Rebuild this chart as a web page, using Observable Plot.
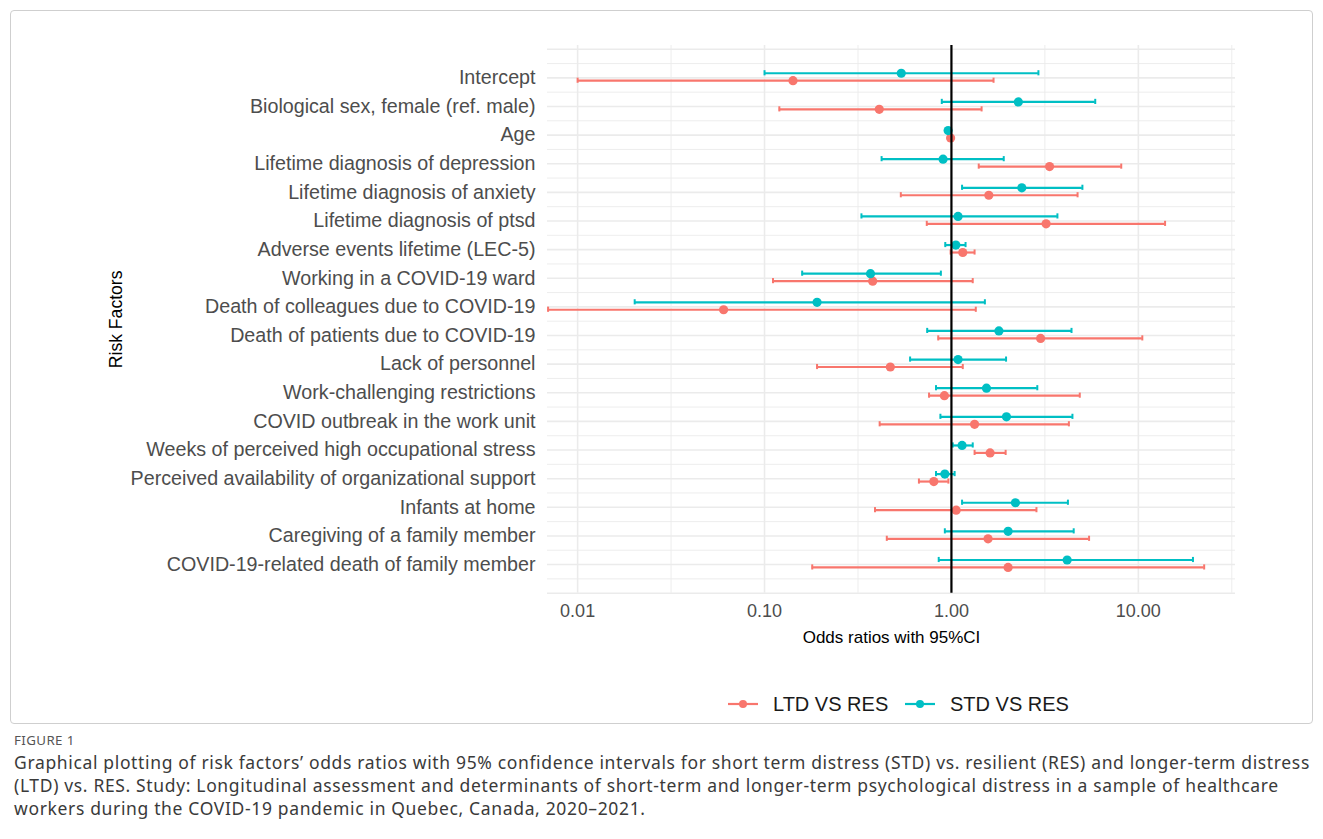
<!DOCTYPE html>
<html><head><meta charset="utf-8">
<script src="https://cdn.jsdelivr.net/npm/d3@7"></script>
<script src="https://cdn.jsdelivr.net/npm/@observablehq/plot@0.6"></script>
<style>
body{margin:0;background:#fff;font-family:"Liberation Sans",Arial,sans-serif;}
#wrap{position:relative;width:1323px;height:839px;overflow:hidden;}
#frame{position:absolute;left:10px;top:10px;width:1303px;height:714px;border:1px solid #cfcfcf;border-radius:4px;box-sizing:border-box;}
#chart{position:absolute;left:0;top:0;}
.lg{position:absolute;top:692px;height:24px;}
.lgtext{position:absolute;top:692px;font-size:20px;line-height:24px;color:#1a1a1a;font-family:"Liberation Sans",Arial,sans-serif;}
.caption-head{position:absolute;left:14px;top:732px;font-family:"Noto Sans";font-size:13.3px;line-height:16px;color:#555;letter-spacing:0.4px;}
.capline{position:absolute;left:14px;font-family:"Noto Sans";font-size:17.5px;line-height:22px;height:22px;color:#3a3a3a;white-space:nowrap;}
</style></head>
<body>
<div id="wrap">
  <div id="frame"></div>
  <div id="chart"></div>
  <svg class="lg" style="left:726px" width="34" height="24"><line x1="2" x2="32" y1="12" y2="12" stroke="#F8766D" stroke-width="2.2"/><circle cx="17" cy="12" r="4" fill="#F8766D"/></svg>
  <div class="lgtext" style="left:773px">LTD VS RES</div>
  <svg class="lg" style="left:903px" width="34" height="24"><line x1="2" x2="32" y1="12" y2="12" stroke="#00BFC4" stroke-width="2.2"/><circle cx="17" cy="12" r="4" fill="#00BFC4"/></svg>
  <div class="lgtext" style="left:950px">STD VS RES</div>
  <div class="caption-head">FIGURE 1</div>
  <div class="capline" style="top:751px"><span id="cap1">Graphical plotting of risk factors’ odds ratios with 95% confidence intervals for short term distress (STD) vs. resilient (RES) and longer-term distress</span></div>
  <div class="capline" style="top:774px">(LTD) vs. RES. Study: Longitudinal assessment and determinants of short-term and longer-term psychological distress in a sample of healthcare</div>
  <div class="capline" style="top:797px">workers during the COVID-19 pandemic in Quebec, Canada, 2020–2021.</div>
</div>
<script>
const labels = [
  "Intercept",
  "Biological sex, female (ref. male)",
  "Age",
  "Lifetime diagnosis of depression",
  "Lifetime diagnosis of anxiety",
  "Lifetime diagnosis of ptsd",
  "Adverse events lifetime (LEC-5)",
  "Working in a COVID-19 ward",
  "Death of colleagues due to COVID-19",
  "Death of patients due to COVID-19",
  "Lack of personnel",
  "Work-challenging restrictions",
  "COVID outbreak in the work unit",
  "Weeks of perceived high occupational stress",
  "Perceived availability of organizational support",
  "Infants at home",
  "Caregiving of a family member",
  "COVID-19-related death of family member"
];
const groups = ["LTD VS RES", "STD VS RES"];
// STD vs RES (teal)
const stdOR = [0.539, 2.28, 0.96, 0.902, 2.38, 1.085, 1.056, 0.369, 0.191, 1.795, 1.085, 1.54, 1.97, 1.14, 0.922, 2.20, 2.01, 4.16];
const stdLo = [0.100, 0.888, 0.95, 0.423, 1.14, 0.330, 0.927, 0.159, 0.0202, 0.742, 0.601, 0.827, 0.873, 1.016, 0.827, 1.14, 0.922, 0.855];
const stdHi = [2.92, 5.88, 0.98, 1.905, 5.02, 3.69, 1.19, 0.878, 1.51, 4.39, 1.96, 2.88, 4.44, 1.30, 1.04, 4.20, 4.51, 19.6];
// LTD vs RES (red)
const ltdOR = [0.142, 0.411, 0.99, 3.35, 1.585, 3.21, 1.15, 0.379, 0.0604, 3.00, 0.471, 0.917, 1.33, 1.61, 0.805, 1.06, 1.57, 2.01];
const ltdLo = [0.010, 0.120, 0.98, 1.40, 0.536, 0.738, 0.99, 0.111, 0.00695, 0.850, 0.191, 0.759, 0.413, 1.33, 0.670, 0.390, 0.451, 0.180];
const ltdHi = [1.68, 1.45, 1.00, 8.10, 4.73, 13.9, 1.33, 1.30, 1.35, 10.5, 1.15, 4.86, 4.25, 1.95, 0.963, 2.85, 5.45, 22.5];
const xTicks = [0.01, 0.1, 1, 10];
const xMinor = [Math.pow(10,-1.5), Math.pow(10,-0.5), Math.pow(10,0.5), Math.pow(10,1.5)];

const data = [];
labels.forEach((l, i) => {
  data.push({grp: groups[0], y: i + 0.10, or: ltdOR[i], lo: ltdLo[i], hi: ltdHi[i]});
  data.push({grp: groups[1], y: i - 0.16, or: stdOR[i], lo: stdLo[i], hi: stdHi[i]});
});
const majorY = d3.range(-1, 19, 1);
const minorY = d3.range(-0.5, 18, 1);
const cap = 0.09;

const chart = Plot.plot({
  width: 1323, height: 680,
  marginLeft: 547, marginRight: 88, marginTop: 45, marginBottom: 87.3,
  x: {type: "log", domain: [0.0069, 33.1], axis: null},
  y: {domain: [-1.13, 18.0], reverse: true, axis: null},
  color: {domain: groups, range: ["#F8766D", "#00BFC4"]},
  style: {fontFamily: "Liberation Sans, Arial, sans-serif", background: "transparent", overflow: "visible"},
  marks: [
    Plot.ruleY(minorY, {y: d => d, stroke: "#ebebeb", strokeWidth: 0.9}),
    Plot.ruleY(majorY, {y: d => d, stroke: "#ebebeb", strokeWidth: 1.6}),
    Plot.ruleX(xMinor, {x: d => d, stroke: "#ebebeb", strokeWidth: 0.9}),
    Plot.ruleX(xTicks, {x: d => d, stroke: "#ebebeb", strokeWidth: 1.6}),
    Plot.ruleY(data, {y: "y", x1: "lo", x2: "hi", stroke: "grp", strokeWidth: 2.2}),
    Plot.ruleX(data, {x: "lo", y1: d => d.y - cap, y2: d => d.y + cap, stroke: "grp", strokeWidth: 2}),
    Plot.ruleX(data, {x: "hi", y1: d => d.y - cap, y2: d => d.y + cap, stroke: "grp", strokeWidth: 2}),
    Plot.dot(data, {x: "or", y: "y", fill: "grp", r: 4.6}),
    Plot.ruleX([1], {x: d => d, stroke: "black", strokeWidth: 2.2}),
    Plot.text(labels, {y: (d, i) => i, frameAnchor: "left", dx: -12, textAnchor: "end", text: d => d, fontSize: 19.7, fill: "#4d4d4d"}),
    Plot.text(xTicks, {x: d => d, frameAnchor: "bottom", dy: 24, text: d => d3.format(".2f")(d), fontSize: 18, fill: "#4d4d4d"}),
    Plot.text(["Odds ratios with 95%CI"], {frameAnchor: "bottom", dy: 50, text: d => d, fontSize: 17, fill: "#000"}),
    Plot.text(["Risk Factors"], {frameAnchor: "left", dx: -431, textAnchor: "middle", rotate: -90, text: d => d, fontSize: 17.6, fill: "#000"})
  ]
});
document.getElementById("chart").appendChild(chart);

// widen the caption letter spacing so its first line spans the reference width
const cap1 = document.getElementById("cap1");
const w = cap1.getBoundingClientRect().width;
const n = cap1.textContent.length;
if (w > 0 && n > 0) {
  const ls = Math.max(0, (1296 - w) / n);
  document.querySelectorAll(".capline").forEach(el => el.style.letterSpacing = ls.toFixed(3) + "px");
}
</script>
</body></html>
